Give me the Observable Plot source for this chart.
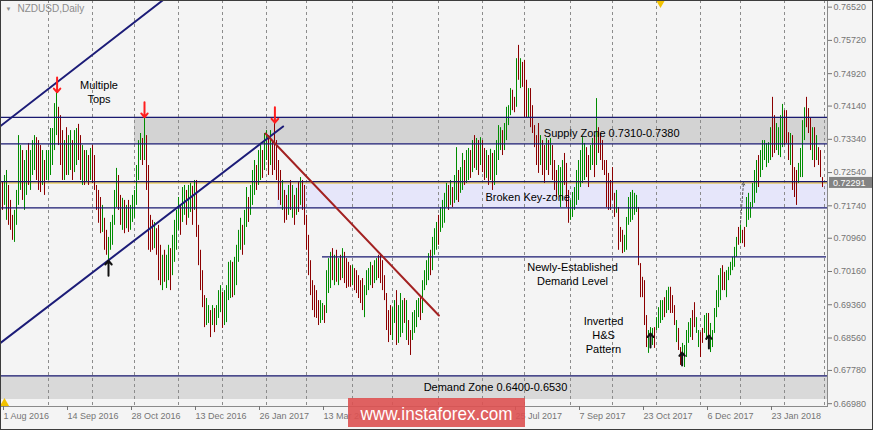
<!DOCTYPE html>
<html>
<head>
<meta charset="utf-8">
<script src="https://cdn.jsdelivr.net/npm/d3@7"></script>
<script src="https://cdn.jsdelivr.net/npm/@observablehq/plot@0.6"></script>
<style>
  body { margin: 0; background: #f4f4f4; }
  #chart svg { display: block; }
</style>
</head>
<body>
<div id="chart"></div>
<script>
// ---- Daily bars (index 0 = 1 Aug 2016), highs and lows ----
const high = [
  .7230,.7247,.7259,.7223,.7187,.7151,.7163,.7211,.7343,.7319,
  .7307,.7283,.7307,.7324,.7307,.7331,.7343,.7338,.7331,.7319,
  .7307,.7283,.7307,.7307,.7360,.7360,.7420,.7452,.7411,.7391,
  .7355,.7331,.7362,.7343,.7355,.7331,.7355,.7360,.7370,.7343,
  .7319,.7307,.7307,.7295,.7312,.7319,.7295,.7223,.7211,.7194,
  .7175,.7144,.7115,.7098,.7134,.7151,.7211,.7264,.7247,.7199,
  .7192,.7187,.7175,.7187,.7175,.7199,.7211,.7271,.7331,.7348,
  .7336,.7396,.7343,.7271,.7151,.7139,.7134,.7119,.7127,.7079,
  .7055,.7067,.7055,.7079,.7071,.7103,.7139,.7163,.7194,.7175,
  .7218,.7223,.7211,.7223,.7228,.7221,.7235,.7235,.7127,.7067,
  .7018,.6958,.6951,.6934,.6922,.6934,.6927,.6934,.6970,.6982,
  .6966,.6970,.6982,.7038,.7042,.7038,.7050,.7079,.7115,.7144,
  .7127,.7163,.7218,.7194,.7223,.7259,.7283,.7271,.7307,.7319,
  .7307,.7348,.7355,.7343,.7355,.7331,.7386,.7331,.7283,.7259,
  .7235,.7211,.7199,.7223,.7235,.7223,.7199,.7216,.7230,.7242,
  .7235,.7223,.7151,.7103,.7042,.6994,.6982,.6970,.6946,.6946,
  .6939,.6934,.7018,.7047,.7062,.7071,.7055,.7067,.7047,.7055,
  .7071,.7062,.7047,.7038,.7030,.7030,.7023,.7018,.7006,.6994,
  .6999,.6982,.7018,.7023,.7038,.7030,.7042,.7047,.7055,.7059,
  .7042,.7006,.6963,.6922,.6934,.6929,.6946,.6970,.6934,.6963,
  .6946,.6951,.6946,.6898,.6874,.6917,.6922,.6946,.6951,.6953,
  .6994,.7018,.7042,.7059,.7067,.7098,.7119,.7134,.7151,.7170,
  .7187,.7204,.7228,.7223,.7235,.7218,.7247,.7314,.7259,.7266,
  .7300,.7283,.7307,.7312,.7307,.7331,.7343,.7336,.7331,.7338,
  .7331,.7312,.7307,.7295,.7310,.7300,.7307,.7331,.7367,.7362,
  .7355,.7372,.7411,.7415,.7456,.7452,.7435,.7528,.7560,.7528,
  .7519,.7524,.7476,.7456,.7456,.7415,.7367,.7343,.7372,.7343,
  .7331,.7319,.7336,.7331,.7336,.7319,.7283,.7259,.7271,.7266,
  .7283,.7300,.7276,.7211,.7187,.7206,.7218,.7259,.7283,.7307,
  .7338,.7324,.7314,.7295,.7319,.7336,.7343,.7432,.7362,.7348,
  .7331,.7283,.7283,.7252,.7235,.7266,.7204,.7211,.7170,.7122,
  .7115,.7103,.7146,.7194,.7206,.7211,.7204,.7199,.7170,.7035,
  .7002,.6994,.6910,.6874,.6881,.6879,.6881,.6905,.6929,.6946,
  .6946,.6953,.6970,.6978,.6978,.6958,.6934,.6898,.6879,.6833,
  .6843,.6838,.6874,.6893,.6903,.6922,.6941,.6905,.6874,.6869,
  .6879,.6910,.6915,.6915,.6891,.6874,.6927,.6970,.7006,.7023,
  .7030,.7014,.7018,.7026,.7038,.7050,.7074,.7098,.7122,.7127,
  .7115,.7122,.7194,.7204,.7182,.7228,.7259,.7283,.7295,.7307,
  .7331,.7331,.7324,.7326,.7362,.7435,.7391,.7372,.7362,.7391,
  .7418,.7403,.7403,.7350,.7348,.7343,.7266,.7259,.7276,.7312,
  .7379,.7410,.7435,.7408,.7386,.7362,.7362,.7343,.7314,.7307,
  .7242
];
const low = [
  .7163,.7175,.7139,.7127,.7115,.7091,.7086,.7127,.7175,.7211,
  .7187,.7163,.7199,.7223,.7211,.7247,.7259,.7235,.7211,.7206,
  .7223,.7199,.7235,.7235,.7247,.7271,.7307,.7343,.7319,.7271,
  .7235,.7235,.7247,.7247,.7259,.7235,.7254,.7271,.7283,.7235,
  .7223,.7223,.7230,.7223,.7235,.7228,.7211,.7163,.7132,.7107,
  .7110,.7067,.7055,.7038,.7067,.7079,.7127,.7170,.7163,.7127,
  .7115,.7107,.7119,.7110,.7115,.7134,.7144,.7175,.7235,.7283,
  .7271,.7283,.7211,.7067,.7062,.7067,.7071,.7055,.6994,.6982,
  .6970,.6990,.6975,.6994,.6970,.7006,.7038,.7067,.7115,.7103,
  .7134,.7151,.7127,.7144,.7158,.7127,.7163,.7098,.7030,.6970,
  .6929,.6881,.6886,.6891,.6857,.6886,.6869,.6886,.6903,.6917,
  .6879,.6886,.6893,.6946,.6951,.6953,.6958,.6982,.7038,.7067,
  .7055,.7079,.7122,.7134,.7151,.7175,.7199,.7211,.7223,.7235,
  .7240,.7259,.7283,.7247,.7271,.7247,.7259,.7235,.7187,.7175,
  .7163,.7132,.7139,.7151,.7163,.7144,.7127,.7151,.7158,.7175,
  .7163,.7127,.7067,.7006,.6958,.6922,.6905,.6903,.6886,.6891,
  .6898,.6891,.6915,.6963,.6975,.6994,.6982,.6990,.6982,.6994,
  .6999,.6987,.6975,.6978,.6978,.6982,.6970,.6963,.6951,.6939,
  .6922,.6905,.6958,.6970,.6982,.6975,.6987,.6994,.6999,.6987,
  .6970,.6946,.6874,.6845,.6862,.6850,.6891,.6838,.6843,.6857,
  .6867,.6891,.6850,.6838,.6814,.6850,.6867,.6881,.6905,.6898,
  .6915,.6970,.6982,.6994,.7006,.7018,.7055,.7067,.7079,.7110,
  .7120,.7132,.7170,.7163,.7175,.7170,.7180,.7187,.7182,.7204,
  .7211,.7223,.7228,.7235,.7240,.7254,.7264,.7259,.7247,.7271,
  .7254,.7235,.7240,.7223,.7235,.7211,.7223,.7247,.7283,.7307,
  .7295,.7307,.7331,.7367,.7391,.7403,.7398,.7411,.7476,.7456,
  .7459,.7386,.7386,.7386,.7362,.7348,.7314,.7271,.7252,.7271,
  .7247,.7228,.7259,.7247,.7271,.7235,.7211,.7194,.7199,.7170,
  .7187,.7223,.7170,.7132,.7139,.7146,.7163,.7175,.7187,.7218,
  .7228,.7235,.7242,.7218,.7259,.7271,.7242,.7271,.7300,.7283,
  .7259,.7247,.7170,.7163,.7163,.7187,.7146,.7156,.7067,.7086,
  .7059,.7062,.7067,.7127,.7134,.7139,.7151,.7158,.7030,.6953,
  .6953,.6886,.6833,.6819,.6843,.6838,.6831,.6874,.6879,.6891,
  .6898,.6905,.6915,.6922,.6915,.6915,.6886,.6845,.6826,.6790,
  .6795,.6785,.6809,.6843,.6857,.6850,.6881,.6867,.6833,.6809,
  .6843,.6867,.6850,.6843,.6821,.6833,.6867,.6905,.6929,.6946,
  .6970,.6970,.6953,.6994,.7006,.7018,.7026,.7050,.7079,.7083,
  .7083,.7074,.7122,.7139,.7144,.7170,.7180,.7204,.7218,.7242,
  .7259,.7283,.7266,.7276,.7283,.7290,.7300,.7307,.7295,.7290,
  .7314,.7319,.7324,.7283,.7271,.7211,.7194,.7175,.7228,.7242,
  .7242,.7331,.7362,.7348,.7307,.7283,.7266,.7283,.7271,.7242,
  .7218
];
// u = up bar (green), d = down bar (red)
const dir = [
  "duuddduuuu","duuduuuddd","uduuuuuudd","duduuduudd","udududdddd",
  "udduuuuudd","ududuuuuuu","dudddduddd","uduuduuuud","uuduududdd",
  "dduududuuu","duuuuduuuu","duuduuuduu","duududdddd","uddudududu",
  "dddddddddu","uduuududud","uddddudddd","duuuuduudd","ddddduuduu",
  "ududduuuud","uuuuduuudu","uuududuudu","uduudududu","ddududuuuu",
  "duuuuddudu","dddudddddu","ddududdduu","uddduuuuuu","uudduududd",
  "dddddddudd","duuuuuuudd","ddduuuduuu","uduudddudd","uuuuudduud",
  "duuduuuuuu","dduuuuuudu","dduuuuuudu","uuuuudduuu","uddduddduu",
  "uudddududd","d"
].join("");

const currentPrice = 0.72291;

// ---- axes ----
const yTicks = [0.7652, 0.7572, 0.7492, 0.7414, 0.7334, 0.7254, 0.7174, 0.7096, 0.7016, 0.6936, 0.6856, 0.6778, 0.6698];
const xTickIdx = [0, 32, 64, 96, 128, 160, 256, 288, 320, 352, 384];
const xTickLabels = ["1 Aug 2016", "14 Sep 2016", "28 Oct 2016", "13 Dec 2016", "26 Jan 2017", "13 Mar 2017",
  "25 Jul 2017", "7 Sep 2017", "23 Oct 2017", "6 Dec 2017", "23 Jan 2018"];
// month separators (bar index of first trading day of each month)
const monthIdx = [23, 45, 66, 88, 110, 132, 152, 175, 195, 218, 240, 261, 284, 305, 327, 349, 369, 391, 411];

// ---- zones & levels ----
const zoneFrom = [66, 137.5, -1];
const zoneLo = [0.7323, 0.7169, 0.6708];
const zoneHi = [0.7387, 0.7232, 0.6765];
const zoneFill = ["#d3d3d3", "#e6e6fa", "#d9d9d9"];

const levelPrice = [0.7387, 0.7323, 0.7232, 0.7169, 0.7051, 0.6765];
const levelFrom = [-1, -1, -1, -1, 160, -1];
const levelTo = [412.5, 412.5, 412.5, 412.5, 412, 412.5];

// ---- trend lines (bar index, price) ----
const trendName = ["chanUp", "chanUp", "chanLow", "chanLow", "down", "down"];
const trendIdx = [-1, 80, -1, 140.3, 131.5, 218.2];
const trendPrice = [0.7366, 0.7668, 0.6844, 0.7365, 0.7348, 0.6910];
const trendColor = ["#1c1c78", "#1c1c78", "#1c1c78", "#1c1c78", "#a32222", "#a32222"];

// ---- arrows ----
const topArrowIdx = [27.3, 71, 136.2];
const topArrowFrom = [0.7483, 0.7423, 0.7411];
const topArrowTo = [0.7447, 0.7387, 0.7374];
const lowArrowIdx = [53, 324, 339.8, 353.2];
const lowArrowFrom = [0.7006, 0.6833, 0.6790, 0.6831];
const lowArrowTo = [0.7042, 0.6867, 0.6821, 0.6862];

// ---- annotations ----
const noteText = ["Multiple\nTops", "Supply Zone 0.7310-0.7380", "Broken Key-zone", "Newly-Established\nDemand Level",
  "Inverted\nH&S\nPattern", "Demand Zone 0.6400-0.6530"];
const noteIdx = [48.25, 270.65, 241.5, 285, 300.5, 246.5];
const notePrice = [0.7449, 0.7350, 0.7197, 0.7011, 0.6864, 0.6739];
const noteAnchor = ["middle", "start", "start", "middle", "middle", "middle"];

// ---- build tables ----
const bars = high.map((h, i) => ({i, high: h, low: low[i], up: dir[i] === "u"}));
const zones = zoneFrom.map((x1, k) => ({x1, x2: 412.5, lo: zoneLo[k], hi: zoneHi[k], fill: zoneFill[k]}));
const levels = levelPrice.map((p, k) => ({p, x1: levelFrom[k], x2: levelTo[k]}));
const trends = trendName.map((n, k) => ({n, i: trendIdx[k], p: trendPrice[k], c: trendColor[k]}));
const topArrows = topArrowIdx.map((i, k) => ({i, a: topArrowFrom[k], b: topArrowTo[k]}));
const lowArrows = lowArrowIdx.map((i, k) => ({i, a: lowArrowFrom[k], b: lowArrowTo[k]}));
const notes = noteText.map((t, k) => ({t, i: noteIdx[k], p: notePrice[k], anchor: noteAnchor[k]}));
const dashArrow = [{i1: 369, p1: 0.7134, i2: 370.5, p2: 0.7230}];

const font = "'Liberation Sans', Arial, sans-serif";
const axisGray = "#747474";
const noteStyle = {x: "i", y: "p", text: "t", lineAnchor: "middle", fill: "#000", fontSize: 11, lineHeight: 1.28, fontFamily: font};

const chart = Plot.plot({
  width: 873,
  height: 430,
  marginLeft: 0,
  marginRight: 46,
  marginTop: 0,
  marginBottom: 24,
  x: {domain: [-1, 412.5]},
  y: {domain: [0.66912, 0.7668]},
  color: {type: "identity"},
  style: {background: "#f4f4f4", fontFamily: font, fontSize: "9px", color: axisGray},
  marks: [
    Plot.rect(zones, {x1: "x1", x2: "x2", y1: "lo", y2: "hi", fill: "fill"}),
    Plot.ruleX(monthIdx, {stroke: "#8c8c8c", strokeDasharray: "3,3"}),
    Plot.ruleY([currentPrice], {stroke: "#e3b400"}),
    Plot.ruleX(bars, {x: "i", y1: "low", y2: "high", stroke: d => d.up ? "#008c00" : "#8b0000", strokeWidth: 1}),
    Plot.ruleY(levels, {y: "p", x1: "x1", x2: "x2", stroke: "#191970", strokeWidth: 1.2}),
    Plot.line(trends, {x: "i", y: "p", z: "n", stroke: "c", strokeWidth: 2, clip: true}),
    Plot.arrow(topArrows, {x1: "i", x2: "i", y1: "a", y2: "b", stroke: "#ff1e1e", strokeWidth: 2, headLength: 7, headAngle: 80}),
    Plot.arrow(lowArrows, {x1: "i", x2: "i", y1: "a", y2: "b", stroke: "#111", strokeWidth: 2, headLength: 7, headAngle: 80}),
    Plot.arrow(dashArrow, {x1: "i1", y1: "p1", x2: "i2", y2: "p2", stroke: "#555", strokeWidth: 1, strokeDasharray: "2,2", headLength: 4}),
    Plot.text(notes.filter(d => d.anchor === "middle"), {...noteStyle, textAnchor: "middle"}),
    Plot.text(notes.filter(d => d.anchor === "start"), {...noteStyle, textAnchor: "start"}),
    Plot.text(["NZDUSD,Daily"], {frameAnchor: "top-left", dx: 17, dy: 4, lineAnchor: "top", textAnchor: "start", fill: "#8c8c8c", fontSize: 10}),
    Plot.text(["▼"], {frameAnchor: "top-left", dx: 5, dy: 6, lineAnchor: "top", textAnchor: "start", fill: "#8c8c8c", fontSize: 6}),
    Plot.dot([329], {x: d => d, frameAnchor: "top", symbol: "triangle", rotate: 180, r: 3.5, dy: 2, fill: "#f2c200", stroke: "none"}),
    Plot.dot([-1], {x: d => d, frameAnchor: "bottom", symbol: "triangle", r: 3.5, dx: 4, dy: -3, fill: "#f2c200", stroke: "none"}),
    Plot.frame({stroke: "#8a8a8a"}),
    Plot.axisY(yTicks, {anchor: "right", tickSize: 4, tickPadding: 2, tickFormat: d => d.toFixed(5), fontSize: 9, label: null, stroke: axisGray, fill: axisGray}),
    Plot.axisX(xTickIdx, {anchor: "bottom", tickSize: 4, tickPadding: 2, tickFormat: d => xTickLabels[xTickIdx.indexOf(d)], textAnchor: "start", dx: 1, fontSize: 9, label: null, stroke: axisGray, fill: axisGray})
  ]
});

// ---- decorations: current price tag, watermark, outer border ----
const xs = chart.scale("x"), ys = chart.scale("y");
const svg = d3.select(chart);
const yp = ys.apply(currentPrice);
svg.append("rect").attr("x", 829).attr("y", yp - 5.5).attr("width", 44).attr("height", 11).attr("fill", "#838383");
svg.append("text").attr("x", 833).attr("y", yp).attr("dy", "0.35em").attr("fill", "#fff").attr("text-anchor", "start")
  .attr("font-family", font).attr("font-size", 9).text(currentPrice.toFixed(5));

const wx1 = xs.apply(173), wx2 = xs.apply(261.5);
const wy = ys.apply(0.66912) - 8;
svg.append("rect").attr("x", wx1).attr("y", wy).attr("width", wx2 - wx1).attr("height", 29)
  .attr("fill", "#dd5151").attr("fill-opacity", 0.9);
svg.append("text").attr("x", (wx1 + wx2) / 2).attr("y", wy + 22).attr("text-anchor", "middle")
  .attr("fill", "#fff").attr("font-family", font).attr("font-size", 19)
  .attr("textLength", 152).attr("lengthAdjust", "spacingAndGlyphs").text("www.instaforex.com");

svg.append("rect").attr("x", 0.5).attr("y", 0.5).attr("width", 872).attr("height", 429)
  .attr("fill", "none").attr("stroke", "#3c3c3c");

document.getElementById("chart").append(chart);
</script>
</body>
</html>
